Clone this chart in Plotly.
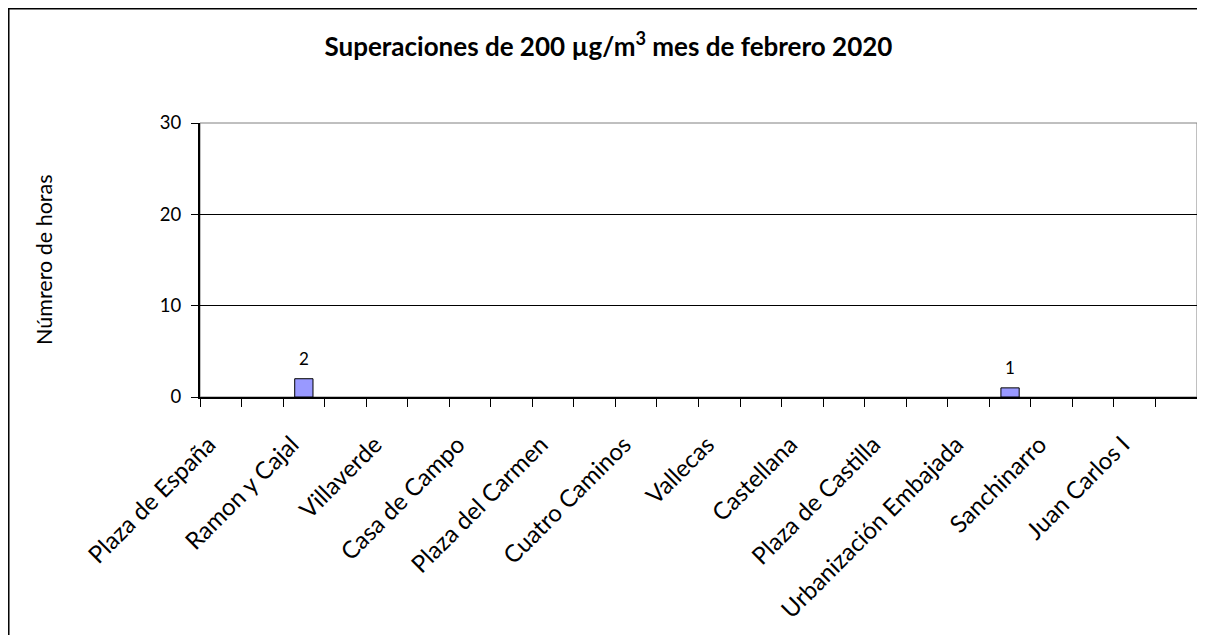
import plotly.graph_objects as go

estaciones = ["Plaza de España", "Escuelas Aguirre", "Ramon y Cajal", "Arturo Soria",
              "Villaverde", "Farolillo", "Casa de Campo", "Barajas Pueblo",
              "Plaza del Carmen", "Moratalaz", "Cuatro Caminos", "Barrio del Pilar",
              "Vallecas", "Méndez Álvaro", "Castellana", "Retiro",
              "Plaza de Castilla", "Ensanche de Vallecas", "Urbanización Embajada", "Plaza Elíptica",
              "Sanchinarro", "El Pardo", "Juan Carlos I", "Tres Olivos"]
horas = [0, 0, 2, 0, 0, 0, 0, 0, 0, 0, 0, 0,
         0, 0, 0, 0, 0, 0, 0, 1, 0, 0, 0, 0]
yticks = [0, 10, 20, 30]

# Excel only shows every other category label
etiquetas = [e if i % 2 == 0 else "" for i, e in enumerate(estaciones)]

font = "Lato"

fig = go.Figure(go.Bar(
    x=estaciones, y=horas,
    marker=dict(color="#9999FF",
                line=dict(color="black", width=[1 if h > 0 else 0 for h in horas])),
    hoverinfo="x+y",
))

# data labels above the non-zero bars
for e, h in zip(estaciones, horas):
    if h > 0:
        fig.add_annotation(x=e, y=h, text=str(h), showarrow=False, yanchor="bottom",
                           yshift=8, font=dict(size=17, family=font, color="black"))

# the page has an 8px body margin, so the figure is sized to fit inside the window
fig.update_layout(
    width=1189, height=627,
    margin=dict(l=192, r=0, t=115, b=238),
    plot_bgcolor="white", paper_bgcolor="white",
    bargap=0.56, showlegend=False,
    font=dict(family=font, color="black"),
    title=dict(text="<b>Superaciones de 200 µg/m<sup>3</sup> mes de febrero 2020</b>",
               x=0.505, xanchor="center", y=0.938, yanchor="middle",
               font=dict(size=26, family=font, color="black")),
    xaxis=dict(
        tickmode="array", tickvals=estaciones, ticktext=etiquetas,
        tickangle=-45, tickson="boundaries", ticks="outside", ticklen=8,
        tickcolor="black", showline=True, linecolor="black", linewidth=2,
        tickfont=dict(size=24, family=font), showgrid=False,
        ticklabelstandoff=22, ticklabelshift=-12,
    ),
    yaxis=dict(
        range=[0, 30], tickvals=yticks, ticks="outside", ticklen=7,
        tickcolor="black", showline=True, linecolor="black", linewidth=2,
        showgrid=True, gridcolor="black", gridwidth=1, zeroline=False,
        tickfont=dict(size=18.5, family=font), ticklabelstandoff=6,
    ),
    annotations=list(fig.layout.annotations) + [
        dict(text="Númrero de horas", xref="paper", yref="paper", x=-0.1565, y=0.5,
             textangle=-90, showarrow=False, xanchor="center", yanchor="middle",
             font=dict(size=21.5, family=font, color="black")),
    ],
    shapes=[
        dict(type="rect", xref="paper", yref="paper", x0=0, x1=1, y0=0, y1=1,
             line=dict(color="#808080", width=1), layer="below"),
        dict(type="rect", xref="paper", yref="paper", x0=-0.1918, x1=1.3, y0=-1.5, y1=1.417,
             line=dict(color="black", width=1.5)),
    ],
)

fig.write_html("out.html")
